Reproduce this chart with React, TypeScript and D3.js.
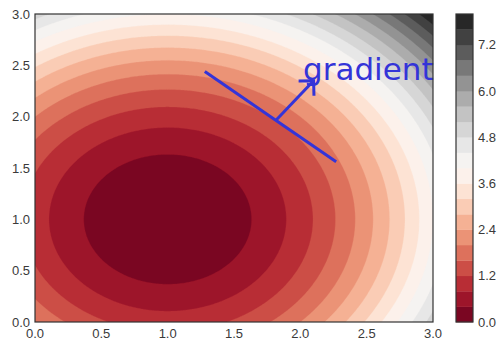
import { useMemo } from "react";
import * as d3 from "d3";

// contour levels (colorbar boundaries) and tick labels
const levels = [0, 0.4, 0.8, 1.2, 1.6, 2.0, 2.4, 2.8, 3.2, 3.6, 4.0, 4.4, 4.8, 5.2, 5.6, 6.0, 6.4, 6.8, 7.2, 7.6, 8.0];
const xTicks = [0, 0.5, 1.0, 1.5, 2.0, 2.5, 3.0];
const yTicks = [0, 0.5, 1.0, 1.5, 2.0, 2.5, 3.0];
const cbTicks = [0, 1.2, 2.4, 3.6, 4.8, 6.0, 7.2];

// surface: squared distance from the minimum
const center = [1, 1];
const domain = [0, 3];

// annotation (data coords)
const tangent = [
  [1.28, 2.44],
  [2.27, 1.56],
];
const arrow = [
  [1.82, 1.97],
  [2.1, 2.35],
];
const label = { text: "gradient", x: 2.02, y: 2.36 };

const W = 501;
const H = 340;
const plot = { left: 35, right: 433, top: 14, bottom: 322 };
const cbar = { left: 456, right: 473 };
const blue = "#3434d8";
const tickFont = "'Liberation Sans', Arial, sans-serif";

export default function App() {
  const sx = d3.scaleLinear().domain(domain).range([plot.left, plot.right]);
  const sy = d3.scaleLinear().domain(domain).range([plot.bottom, plot.top]);
  const sc = d3.scaleLinear().domain([levels[0], levels[levels.length - 1]]).range([plot.bottom, plot.top]);
  const color = (i: number) => d3.interpolateRdGy((i + 0.5) / (levels.length - 1));

  const bands = useMemo(() => {
    const n = 240;
    const step = (domain[1] - domain[0]) / (n - 1);
    const values = new Array(n * n);
    for (let j = 0; j < n; j++) {
      for (let i = 0; i < n; i++) {
        const x = domain[0] + i * step;
        const y = domain[0] + j * step;
        values[j * n + i] = (x - center[0]) ** 2 + (y - center[1]) ** 2;
      }
    }
    const contours = d3.contours().size([n, n]).thresholds(levels.slice(0, -1))(values);
    const proj = d3.geoTransform({
      point(cx: number, cy: number) {
        this.stream.point(sx(domain[0] + (cx - 0.5) * step), sy(domain[0] + (cy - 0.5) * step));
      },
    });
    const path = d3.geoPath(proj);
    return contours.map((c, i) => ({ d: path(c as any) || "", fill: color(i) }));
  }, []);

  // arrow head in pixel space
  const [ax0, ay0] = [sx(arrow[0][0]), sy(arrow[0][1])];
  const [ax1, ay1] = [sx(arrow[1][0]), sy(arrow[1][1])];
  const ang = Math.atan2(ay1 - ay0, ax1 - ax0);
  const hl = 15;
  const head = [ang + Math.PI - Math.PI / 4, ang + Math.PI + Math.PI / 4].map((a) => [
    ax1 + hl * Math.cos(a),
    ay1 + hl * Math.sin(a),
  ]);

  return (
    <svg width={W} height={H} style={{ position: "absolute", left: 0, top: 0, background: "#fff" }}>
      <defs>
        <clipPath id="plotclip">
          <rect x={plot.left} y={plot.top} width={plot.right - plot.left} height={plot.bottom - plot.top} />
        </clipPath>
      </defs>

      <g clipPath="url(#plotclip)">
        {bands.map((b, i) => (
          <path key={i} d={b.d} fill={b.fill} stroke={b.fill} strokeWidth={0.3} />
        ))}
      </g>

      <g fill="none" stroke={blue} strokeWidth={3}>
        <line x1={sx(tangent[0][0])} y1={sy(tangent[0][1])} x2={sx(tangent[1][0])} y2={sy(tangent[1][1])} />
        <line x1={ax0} y1={ay0} x2={ax1} y2={ay1} />
        <polyline points={`${head[0][0]},${head[0][1]} ${ax1},${ay1} ${head[1][0]},${head[1][1]}`} />
      </g>
      <text x={sx(label.x)} y={sy(label.y)} fill={blue} fontFamily="'DejaVu Sans', sans-serif" fontSize={31}>
        {label.text}
      </text>

      <rect
        x={plot.left}
        y={plot.top}
        width={plot.right - plot.left}
        height={plot.bottom - plot.top}
        fill="none"
        stroke="#333"
        strokeWidth={1.2}
      />

      <g fontFamily={tickFont} fontSize={13} fill="#3a3a3a">
        {xTicks.map((t) => (
          <text key={"x" + t} x={sx(t)} y={338} textAnchor="middle">
            {t.toFixed(1)}
          </text>
        ))}
        {yTicks.map((t) => (
          <text key={"y" + t} x={plot.left - 5} y={sy(t)} dy="0.36em" textAnchor="end">
            {t.toFixed(1)}
          </text>
        ))}
      </g>

      {levels.slice(0, -1).map((lv, i) => (
        <rect
          key={"cb" + i}
          x={cbar.left}
          y={sc(levels[i + 1])}
          width={cbar.right - cbar.left}
          height={sc(lv) - sc(levels[i + 1]) + 0.3}
          fill={color(i)}
        />
      ))}
      <rect
        x={cbar.left}
        y={plot.top}
        width={cbar.right - cbar.left}
        height={plot.bottom - plot.top}
        fill="none"
        stroke="#333"
        strokeWidth={1.2}
      />
      <g fontFamily={tickFont} fontSize={13} fill="#3a3a3a">
        {cbTicks.map((t) => (
          <text key={"c" + t} x={cbar.right + 5} y={sc(t)} dy="0.36em">
            {t.toFixed(1)}
          </text>
        ))}
      </g>
    </svg>
  );
}
